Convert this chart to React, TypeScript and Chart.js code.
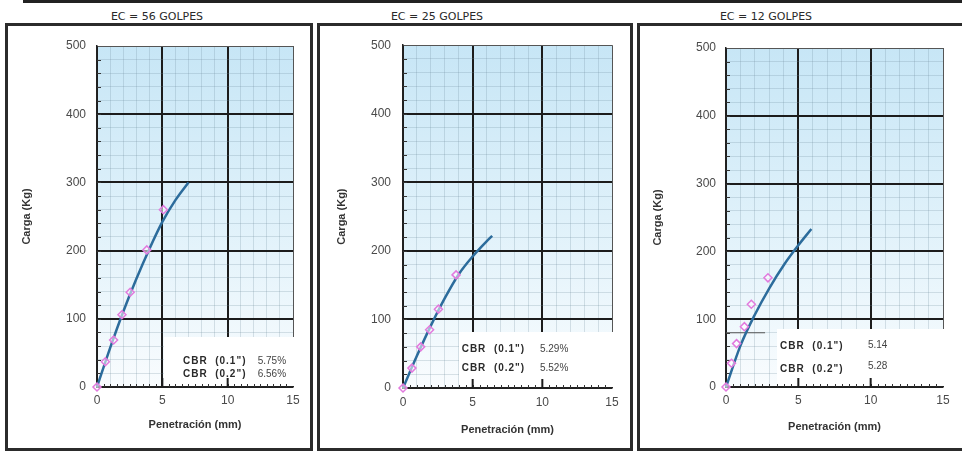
import React, { useEffect, useRef } from "react";
import { Chart, registerables } from "chart.js";

Chart.register(...registerables);

// ---------------- data ----------------
const PANEL_TITLES = ["EC = 56 GOLPES", "EC = 25 GOLPES", "EC = 12 GOLPES"];
const X_TITLE = "Penetración (mm)";
const Y_TITLE = "Carga (Kg)";
const X_MIN = 0;
const X_MAX = 15;
const X_STEP = 1;
const X_LABEL_EVERY = 5;
const Y_MIN = 0;
const Y_MAX = 500;
const Y_STEP = 20;
const Y_LABEL_EVERY = 100;

// measured points (penetration mm, load kg)
const PEN_56 = [0, 0.64, 1.27, 1.91, 2.54, 3.81, 5.08];
const LOAD_56 = [0, 37, 69, 106, 139, 201, 260];
const PEN_25 = [0, 0.64, 1.27, 1.91, 2.54, 3.81];
const LOAD_25 = [0, 29, 60, 85, 115, 165];
const PEN_12 = [0, 0.38, 0.73, 1.27, 1.75, 2.9];
const LOAD_12 = [0, 35, 64, 89, 122, 161];

// fitted curves
const CURVE_PEN_56 = [0, 1, 2, 3, 4, 5, 6, 7];
const CURVE_LOAD_56 = [0, 57, 110, 158, 202, 242, 274, 300];
const CURVE_PEN_25 = [0, 1, 2, 3, 4, 5, 6, 6.4];
const CURVE_LOAD_25 = [0, 47, 91, 131, 166, 192, 214, 222];
const CURVE_PEN_12 = [0, 1, 2, 3, 4, 5, 5.9];
const CURVE_LOAD_12 = [0, 61, 107, 146, 180, 209, 233];

// stray guide line in the third chart
const GUIDE_PEN_12 = [0, 2.7];
const GUIDE_LOAD_12 = [80, 80];

const CBR_LABELS = ['CBR  (0.1")', 'CBR  (0.2")'];
const CBR_01 = ["5.75%", "5.29%", "5.14"];
const CBR_02 = ["6.56%", "5.52%", "5.28"];

// ---------------- layout / style ----------------
type Lay = {
  left: number;
  width: number;
  canvasW: number;
  padTop: number;
  padRight: number;
  yAxisW: number;
  xAxisH: number;
  yTitlePad: number;
  xTitlePad: number;
  yTickPad: number;
  xTickPad: number;
  titleCenter: number;
  boxX: number;
  boxY: number;
  labelX: number;
  valueX: number;
  row1: number;
  row2: number;
  vrow1: number;
  vrow2: number;
};

const LAYOUT: Lay[] = [
  { left: 5, width: 308, canvasW: 302, padTop: 20, padRight: 17, yAxisW: 89, xAxisH: 61, yTitlePad: 12, xTitlePad: 16, yTickPad: 11, xTickPad: 6, titleCenter: 157, boxX: 5.12, boxY: 74, labelX: 6.58, valueX: 12.3, row1: 37.5, row2: 18.5, vrow1: 37.5, vrow2: 18.5 },
  { left: 317, width: 316, canvasW: 310, padTop: 18, padRight: 18, yAxisW: 83, xAxisH: 60, yTitlePad: 15, xTitlePad: 11, yTickPad: 12, xTickPad: 7, titleCenter: 437, boxX: 4.0, boxY: 81, labelX: 4.21, valueX: 9.83, row1: 56, row2: 29, vrow1: 56, vrow2: 29 },
  { left: 637, width: 328, canvasW: 322, padTop: 22, padRight: 19, yAxisW: 86, xAxisH: 61, yTitlePad: 11, xTitlePad: 14, yTickPad: 10, xTickPad: 6, titleCenter: 766, boxX: 3.5, boxY: 86, labelX: 3.74, valueX: 9.81, row1: 60.5, row2: 26, vrow1: 61.5, vrow2: 30.5 },
];

const PANEL_TOP = 23;
const PANEL_H = 428;
const CANVAS_H = 422;
const FONT = '"Liberation Sans", Arial, sans-serif';
const POINT_COLOR = "#e27ade";
const CURVE_COLOR = "#2c6c9c";
const MAJOR = "#1c1c1c";
const MINOR = "rgba(110,140,155,0.24)";

const SERIES = [
  { pen: PEN_56, load: LOAD_56, cpen: CURVE_PEN_56, cload: CURVE_LOAD_56 },
  { pen: PEN_25, load: LOAD_25, cpen: CURVE_PEN_25, cload: CURVE_LOAD_25 },
  { pen: PEN_12, load: LOAD_12, cpen: CURVE_PEN_12, cload: CURVE_LOAD_12 },
];

const zip = (xs: number[], ys: number[]) => xs.map((x, i) => ({ x, y: ys[i] }));

function makeDecor(idx: number) {
  return {
    id: "decor" + idx,
    beforeDraw(chart: any) {
      const { ctx, chartArea: a } = chart;
      const g = ctx.createLinearGradient(0, a.top, 0, a.bottom);
      g.addColorStop(0, "#c7e6f6");
      g.addColorStop(0.5, "#dff1fa");
      g.addColorStop(1, "#f9fcfe");
      ctx.save();
      ctx.fillStyle = g;
      ctx.fillRect(a.left, a.top, a.right - a.left, a.bottom - a.top);
      ctx.restore();
    },
    beforeDatasetsDraw(chart: any) {
      const L = LAYOUT[idx];
      const { ctx, chartArea: a, scales } = chart;
      const x = scales.x;
      const y = scales.y;
      const bx = Math.round(x.getPixelForValue(L.boxX));
      const by = Math.round(y.getPixelForValue(L.boxY));
      ctx.save();
      ctx.fillStyle = "#ffffff";
      ctx.fillRect(bx, by, a.right + 3 - bx, a.bottom - 1 - by);

      // small inward ticks on the bottom axis
      ctx.strokeStyle = "#333";
      ctx.lineWidth = 1;
      ctx.beginPath();
      for (let k = 1; k < (X_MAX - X_MIN) * 2; k++) {
        const v = X_MIN + k * 0.5;
        const px = Math.round(x.getPixelForValue(v)) + 0.5;
        ctx.moveTo(px, a.bottom);
        ctx.lineTo(px, a.bottom - 3);
      }
      // small inward ticks on the left axis
      for (let v = Y_MIN + Y_STEP; v < Y_MAX; v += Y_STEP) {
        const py = Math.round(y.getPixelForValue(v)) + 0.5;
        ctx.moveTo(a.left, py);
        ctx.lineTo(a.left + 4, py);
      }
      ctx.stroke();
      // major inward ticks
      ctx.strokeStyle = MAJOR;
      ctx.lineWidth = 2;
      ctx.beginPath();
      for (let v = X_MIN + X_LABEL_EVERY; v < X_MAX; v += X_LABEL_EVERY) {
        const px = x.getPixelForValue(v);
        ctx.moveTo(px, a.bottom);
        ctx.lineTo(px, a.bottom - 9);
      }
      ctx.stroke();

      // CBR text
      ctx.textBaseline = "middle";
      ctx.textAlign = "left";
      ctx.fillStyle = "#2a2a2a";
      ctx.font = "bold 10px " + FONT;
      (ctx as any).letterSpacing = "1px";
      ctx.fillText(CBR_LABELS[0], x.getPixelForValue(L.labelX), y.getPixelForValue(L.row1));
      ctx.fillText(CBR_LABELS[1], x.getPixelForValue(L.labelX), y.getPixelForValue(L.row2));
      (ctx as any).letterSpacing = "0px";
      ctx.fillStyle = "#444";
      ctx.font = "10px " + FONT;
      ctx.fillText(CBR_01[idx], x.getPixelForValue(L.valueX), y.getPixelForValue(L.vrow1));
      ctx.fillText(CBR_02[idx], x.getPixelForValue(L.valueX), y.getPixelForValue(L.vrow2));
      ctx.restore();
    },
  };
}

function Panel({ idx }: { idx: number }) {
  const ref = useRef<HTMLCanvasElement>(null);
  const L = LAYOUT[idx];
  useEffect(() => {
    const s = SERIES[idx];
    const datasets: any[] = [
      {
        label: "Ensayo",
        data: zip(s.pen, s.load),
        showLine: false,
        pointStyle: "rectRot",
        pointRadius: 4,
        pointBorderWidth: 1.5,
        borderColor: POINT_COLOR,
        backgroundColor: "rgba(255,255,255,0.55)",
        clip: false,
      },
      {
        label: "Curva",
        data: zip(s.cpen, s.cload),
        showLine: true,
        pointRadius: 0,
        borderColor: CURVE_COLOR,
        borderWidth: 2.5,
        cubicInterpolationMode: "monotone",
        fill: false,
        clip: false,
      },
    ];
    if (idx === 2) {
      datasets.push({
        label: "Guía",
        data: zip(GUIDE_PEN_12, GUIDE_LOAD_12),
        showLine: true,
        pointRadius: 0,
        borderColor: "#555",
        borderWidth: 1,
        fill: false,
      });
    }
    const chart = new Chart(ref.current as HTMLCanvasElement, {
      type: "scatter",
      data: { datasets },
      options: {
        animation: false,
        responsive: false,
        maintainAspectRatio: false,
        events: [],
        layout: { padding: { left: 0, top: L.padTop, right: L.padRight, bottom: 0 } },
        plugins: { legend: { display: false }, tooltip: { enabled: false }, title: { display: false } },
        scales: {
          x: {
            type: "linear",
            min: X_MIN,
            max: X_MAX,
            afterFit: (sc: any) => {
              sc.height = L.xAxisH;
            },
            ticks: {
              stepSize: X_STEP,
              autoSkip: false,
              maxRotation: 0,
              padding: L.xTickPad,
              color: "#4a4a4a",
              font: { family: FONT, size: 12 },
              callback: (v: any) => (Number(v) % X_LABEL_EVERY === 0 ? String(v) : ""),
            },
            grid: {
              drawTicks: false,
              color: (c: any) => {
                const v = c.tick ? c.tick.value : -1;
                if (v === X_MIN) return MAJOR;
                if (v === X_MAX) return "#555";
                return v % X_LABEL_EVERY === 0 ? MAJOR : MINOR;
              },
              lineWidth: (c: any) => {
                const v = c.tick ? c.tick.value : -1;
                if (v === X_MIN || v === X_MAX) return 1;
                return v % X_LABEL_EVERY === 0 ? 2 : 1;
              },
            },
            border: { display: true, color: "#222", width: 1.5 },
            title: {
              display: true,
              text: X_TITLE,
              color: "#333",
              font: { family: FONT, size: 11, weight: "bold" },
              padding: { top: 0, bottom: L.xTitlePad },
            },
          },
          y: {
            type: "linear",
            min: Y_MIN,
            max: Y_MAX,
            afterFit: (sc: any) => {
              sc.width = L.yAxisW;
            },
            ticks: {
              stepSize: Y_STEP,
              autoSkip: false,
              padding: L.yTickPad,
              color: "#4a4a4a",
              font: { family: FONT, size: 12 },
              callback: (v: any) => (Number(v) % Y_LABEL_EVERY === 0 ? String(v) : ""),
            },
            grid: {
              drawTicks: false,
              color: (c: any) => {
                const v = c.tick ? c.tick.value : -1;
                if (v === Y_MIN) return MAJOR;
                if (v === Y_MAX) return "#555";
                return v % Y_LABEL_EVERY === 0 ? MAJOR : MINOR;
              },
              lineWidth: (c: any) => {
                const v = c.tick ? c.tick.value : -1;
                if (v === Y_MIN || v === Y_MAX) return 1;
                return v % Y_LABEL_EVERY === 0 ? 2 : 1;
              },
            },
            border: { display: true, color: "#222", width: 1.5 },
            title: {
              display: true,
              text: Y_TITLE,
              color: "#333",
              font: { family: FONT, size: 11, weight: "bold" },
              padding: { top: L.yTitlePad, bottom: 0 },
            },
          },
        },
      },
      plugins: [makeDecor(idx)],
    } as any);
    return () => chart.destroy();
  }, [idx]);

  return (
    <>
      <div
        style={{
          position: "absolute",
          left: L.titleCenter - 100,
          top: 10,
          width: 200,
          textAlign: "center",
          font: '11px "DejaVu Sans", sans-serif',
          lineHeight: "13px",
          color: "#2a2a2a",
          whiteSpace: "nowrap",
        }}
      >
        {PANEL_TITLES[idx]}
      </div>
      <div
        style={{
          position: "absolute",
          left: L.left,
          top: PANEL_TOP,
          width: L.width,
          height: PANEL_H,
          border: "3px solid #2b2b2b",
          boxSizing: "border-box",
          background: "#fff",
        }}
      >
        <canvas
          ref={ref}
          width={L.canvasW}
          height={CANVAS_H}
          style={{ position: "absolute", left: 0, top: 0, width: L.canvasW, height: CANVAS_H }}
        />
      </div>
    </>
  );
}

export default function App() {
  return (
    <div
      style={{
        position: "fixed",
        left: 0,
        top: 0,
        width: 962,
        height: 451,
        overflow: "hidden",
        background: "#ffffff",
      }}
    >
      <div style={{ position: "absolute", left: 23, top: 0, width: 939, height: 3, background: "#222" }} />
      <Panel idx={0} />
      <Panel idx={1} />
      <Panel idx={2} />
    </div>
  );
}
